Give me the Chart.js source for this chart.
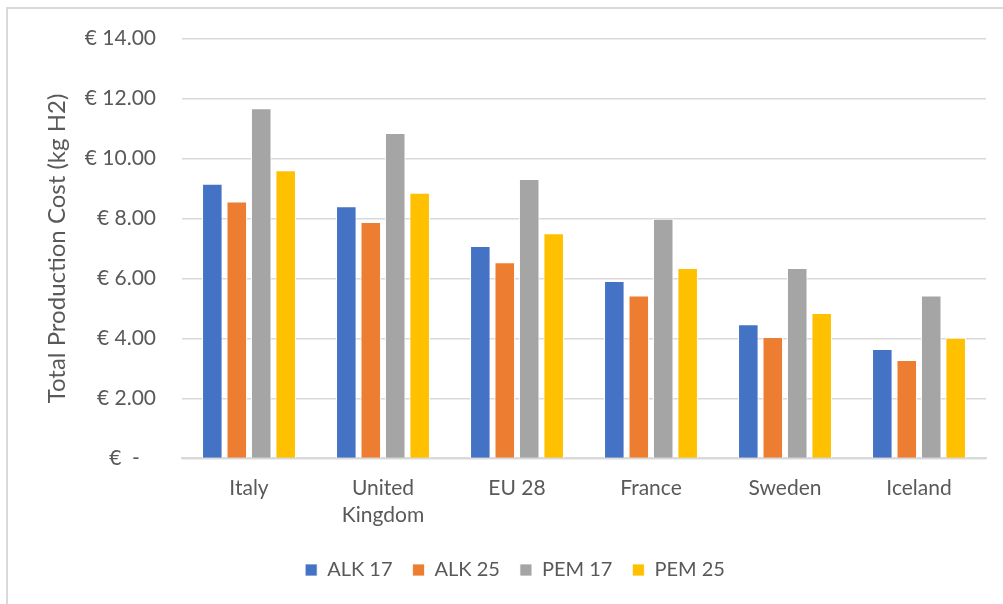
<!DOCTYPE html>
<html>
<head>
<meta charset="utf-8">
<script src="https://cdn.jsdelivr.net/npm/chart.js@4.4.1/dist/chart.umd.min.js"></script>
<style>
  html, body { margin: 0; padding: 0; background: #fff; overflow: hidden; }
  #wrap { position: relative; width: 1003px; height: 604px; }
  #frame {
    position: absolute; left: 6px; top: 7px; width: 1010px; height: 610px;
    border-top: 2px solid #d9d9d9; border-left: 2px solid #d9d9d9;
    box-sizing: border-box; pointer-events: none;
  }
  canvas { position: absolute; left: 0; top: 0; }
</style>
</head>
<body>
<div id="wrap">
  <canvas id="chart" width="1003" height="604"></canvas>
  <div id="frame"></div>
</div>
<script>
// cost per kg of hydrogen, by country and electrolyser type
const countries = ['Italy', ['United', 'Kingdom'], 'EU 28', 'France', 'Sweden', 'Iceland'];
const alk17 = [9.16, 8.41, 7.08, 5.92, 4.47, 3.65];
const alk25 = [8.57, 7.88, 6.54, 5.43, 4.05, 3.28];
const pem17 = [11.68, 10.85, 9.32, 7.99, 6.35, 5.43];
const pem25 = [9.61, 8.86, 7.51, 6.35, 4.85, 4.02];
const yTicks = [0, 2, 4, 6, 8, 10, 12, 14];

const FONT = 'Lato, "Open Sans", sans-serif';
const TEXT = '#595959';

const mkSet = (label, data, color) => ({
  label,
  data,
  backgroundColor: color,
  borderColor: '#ffffff',
  borderWidth: { left: 1, right: 1, top: 1, bottom: 0 },
  categoryPercentage: 0.73,
  barPercentage: 0.84,
});

new Chart(document.getElementById('chart').getContext('2d'), {
  type: 'bar',
  data: {
    labels: countries,
    datasets: [
      mkSet('ALK 17', alk17, '#4472c4'),
      mkSet('ALK 25', alk25, '#ed7d31'),
      mkSet('PEM 17', pem17, '#a5a5a5'),
      mkSet('PEM 25', pem25, '#ffc000'),
    ],
  },
  options: {
    responsive: false,
    animation: false,
    // left padding keeps the legend centred under the plot
    layout: { padding: { top: 37, right: 17, bottom: 14, left: 44 } },
    plugins: {
      tooltip: { enabled: false },
      legend: {
        position: 'bottom',
        labels: {
          boxWidth: 12,
          boxHeight: 12,
          padding: 20,
          color: TEXT,
          font: { family: FONT, size: 20 },
        },
      },
    },
    scales: {
      x: {
        afterFit: scale => { scale.height -= 5; },
        grid: { display: false, drawTicks: false },
        border: { display: true, color: '#d9d9d9', width: 2 },
        ticks: {
          color: TEXT,
          padding: 16,
          maxRotation: 0,
          autoSkip: false,
          font: { family: FONT, size: 21, lineHeight: 1.3 },
        },
      },
      y: {
        min: 0,
        max: 14,
        afterFit: scale => { scale.width = 138; },
        afterBuildTicks: scale => { scale.ticks = yTicks.map(v => ({ value: v })); },
        grid: { color: '#d9d9d9', lineWidth: 1.5, drawTicks: false },
        border: { display: false },
        ticks: {
          color: TEXT,
          padding: 26,
          font: { family: FONT, size: 21 },
          callback: v => v === 0 ? '€  -   ' : '€ ' + v.toFixed(2),
        },
        title: {
          display: true,
          text: 'Total Production Cost (kg H2)',
          color: TEXT,
          font: { family: FONT, size: 24, lineHeight: 1.1 },
          padding: { top: 0, bottom: 0 },
        },
      },
    },
  },
});
</script>
</body>
</html>
